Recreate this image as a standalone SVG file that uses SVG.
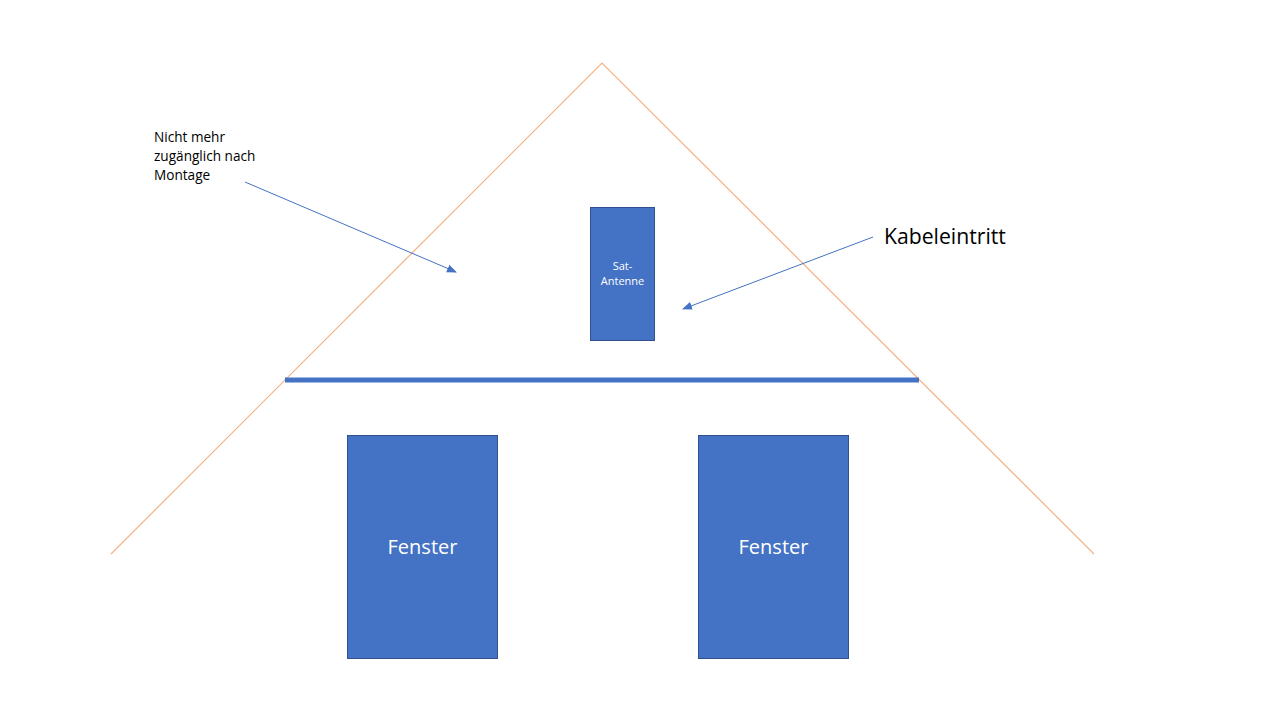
<svg xmlns="http://www.w3.org/2000/svg" width="1280" height="720" viewBox="0 0 1280 720">
<style>
.box{fill:#4472C4;stroke:#2F528F;stroke-width:1}
.lbl{font-family:"Open Sans","Liberation Sans",sans-serif;fill:#000}
.wl{font-family:"Open Sans","Liberation Sans",sans-serif;fill:#fff;text-anchor:middle}
.conn{stroke:#4472C4;stroke-width:1;fill:none;marker-end:url(#ah)}
</style>
<defs>
<marker id="ah" viewBox="0 0 10 10" refX="9" refY="5" markerWidth="10" markerHeight="10" markerUnits="userSpaceOnUse" orient="auto">
<path d="M0,1 L10,5 L0,9 z" fill="#4472C4"/>
</marker>
</defs>
<rect width="1280" height="720" fill="#fff"/>
<g id="roof">
<polyline points="111,554 602,63 1094,554" fill="none" stroke="#F4B183" stroke-width="1.2"/>
</g>
<g id="beam">
<line x1="285" y1="380" x2="919" y2="380" stroke="#4472C4" stroke-width="5"/>
</g>
<g id="sat-antenne">
<rect class="box" x="590.5" y="207.5" width="64" height="133"/>
<text class="wl" x="622.5" y="270" font-size="11">Sat-</text>
<text class="wl" x="622.5" y="285" font-size="11">Antenne</text>
</g>
<g id="fenster-1">
<rect class="box" x="347.5" y="435.5" width="150" height="223"/>
<text class="wl" x="422.5" y="554" font-size="20">Fenster</text>
</g>
<g id="fenster-2">
<rect class="box" x="698.5" y="435.5" width="150" height="223"/>
<text class="wl" x="773.5" y="554" font-size="20">Fenster</text>
</g>
<g id="note-montage">
<text class="lbl" x="154" y="142" font-size="13.6">Nicht mehr</text>
<text class="lbl" x="154" y="161" font-size="13.6">zugänglich nach</text>
<text class="lbl" x="154" y="180" font-size="13.6">Montage</text>
</g>
<g id="note-kabel">
<text class="lbl" x="884" y="244" font-size="21.2">Kabeleintritt</text>
</g>
<g id="connectors">
<line class="conn" x1="245" y1="182" x2="456" y2="272"/>
<line class="conn" x1="873" y1="237" x2="683" y2="309"/>
</g>
</svg>
